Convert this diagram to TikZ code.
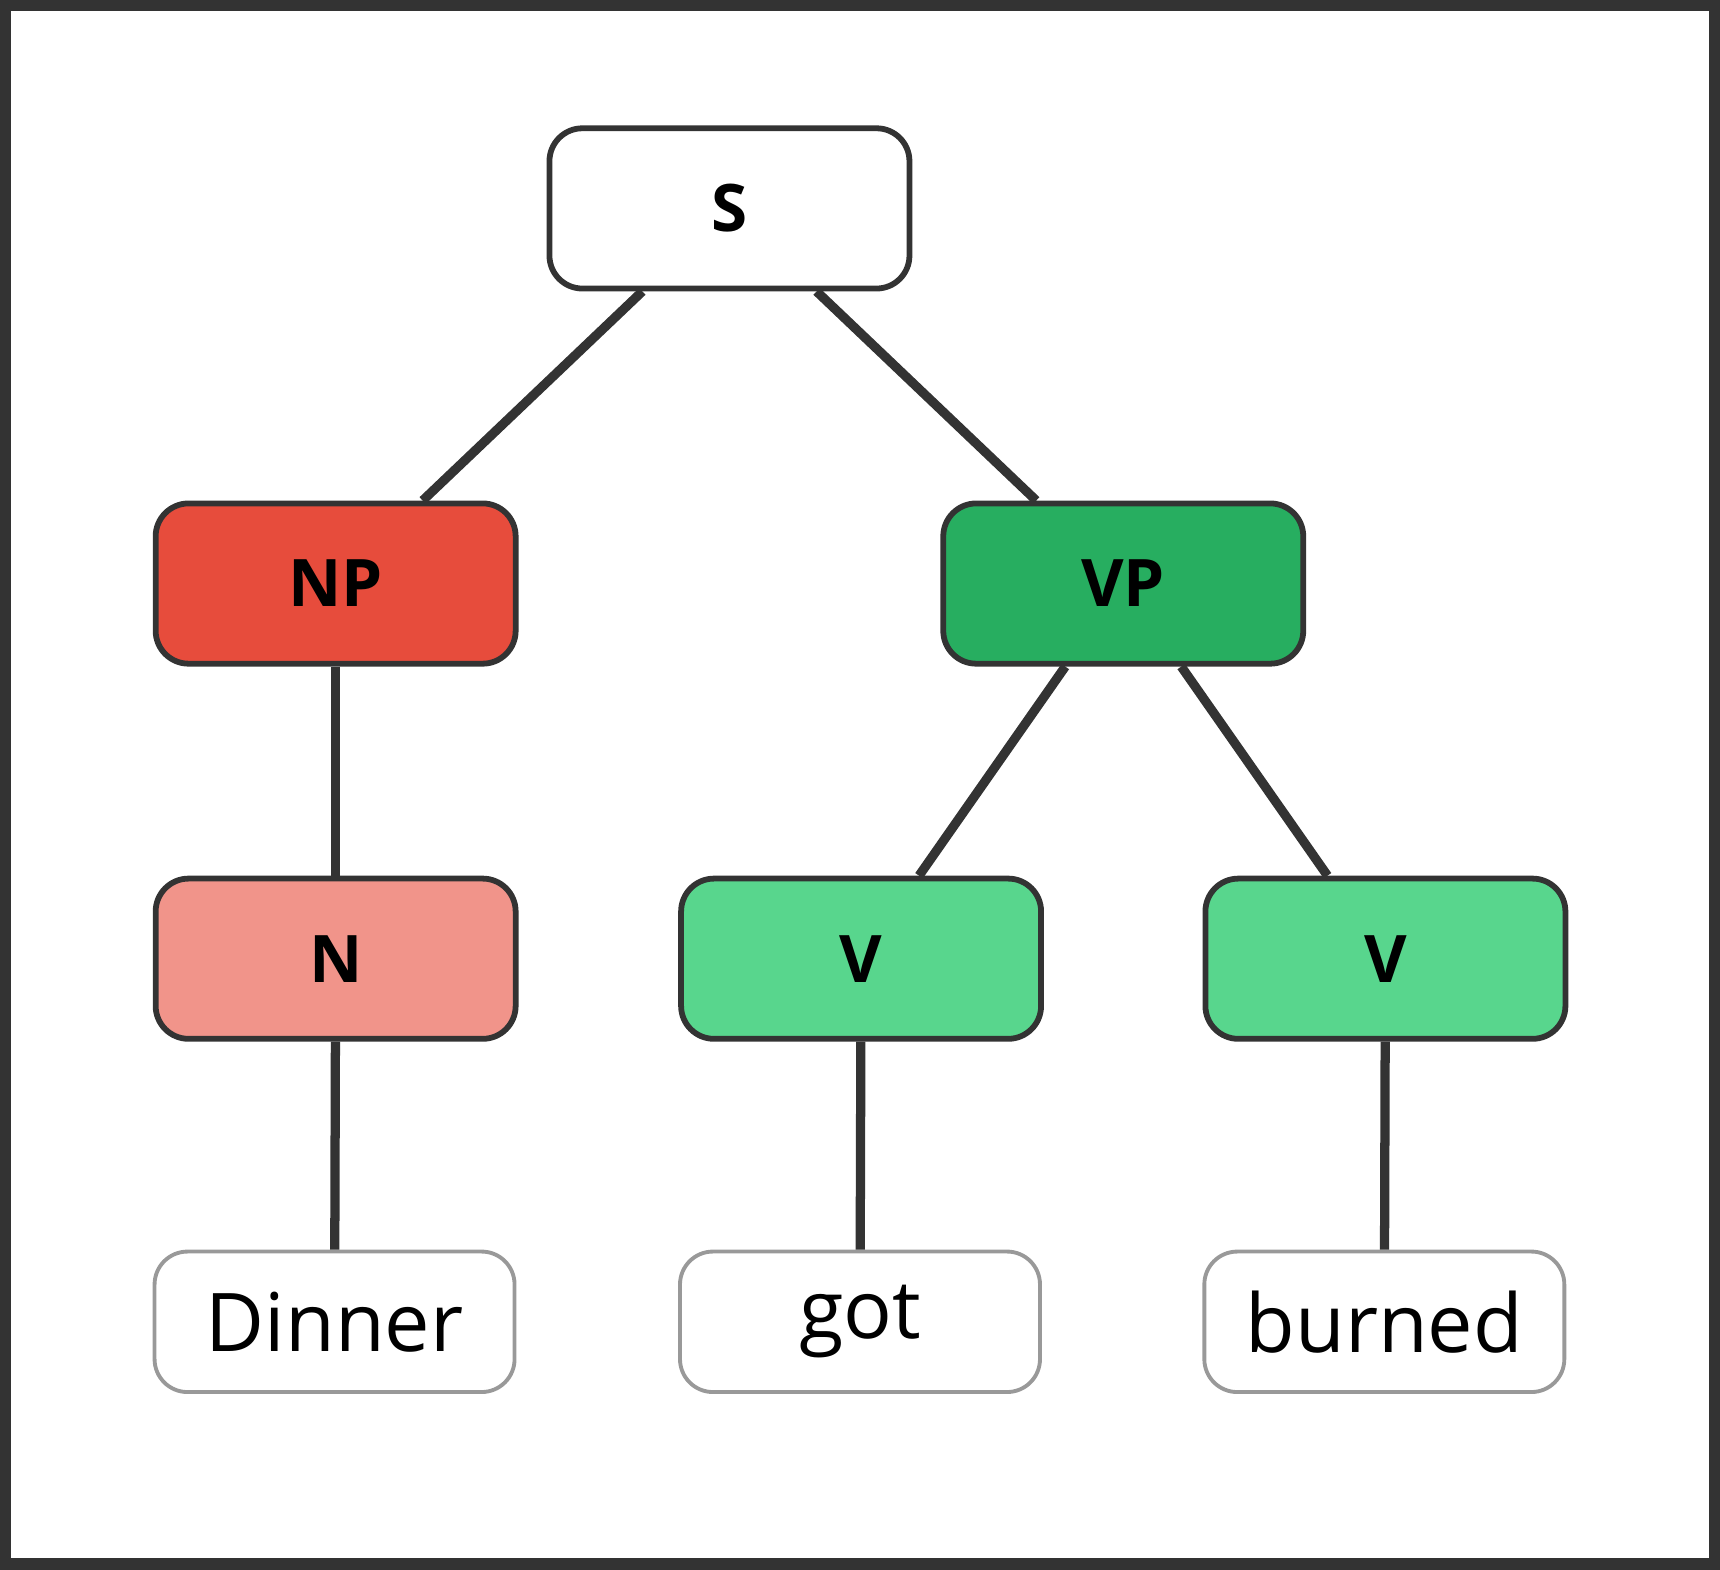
\documentclass[tikz,border=0pt]{standalone}
\usepackage{fontspec}
\setmainfont{Open Sans}
\usetikzlibrary{positioning}
\definecolor{edgegray}{HTML}{333333}
\definecolor{leafgray}{HTML}{999999}
\definecolor{npred}{HTML}{E74C3C}
\definecolor{nred}{HTML}{F1948A}
\definecolor{vpgreen}{HTML}{27AE60}
\definecolor{vgreen}{HTML}{58D68D}

\begin{document}
\begin{tikzpicture}[x=0.01cm,y=-0.01cm,
    cat/.style={draw=edgegray,line width=1.5pt,rounded corners=0.3cm,minimum width=3.28cm,minimum height=1.46cm,font=\fontsize{17}{20}\selectfont\bfseries},
    leaf/.style={draw=leafgray,line width=1pt,rounded corners=0.3cm,minimum width=3.28cm,minimum height=1.28cm,fill=white,font=\fontsize{21}{24}\selectfont},
    branch/.style={draw=edgegray,line width=2.4pt}]
		\useasboundingbox (0,0) rectangle (1568,1431);
		\draw[edgegray,line width=3pt] (5,5) rectangle (1563,1426);
		
		% Nodes
		\node[cat,fill=white] (s) at (665,190) {S};
		\node[cat,fill=npred] (np) at (306,532) {NP};
		\node[cat,fill=vpgreen] (vp) at (1024,532) {VP};
		\node[cat,fill=nred] (n) at (306,874) {N};
		\node[cat,fill=vgreen] (v1) at (785,874) {V};
		\node[cat,fill=vgreen] (v2) at (1263,874) {V};
		\node[leaf] (dinner) at (305,1205) {Dinner};
		\node[leaf] (got) at (784,1205) {got};
		\node[leaf] (burned) at (1262,1205) {burned};
		
		% Branches
		\draw[branch] (s) -- (np);
		\draw[branch] (s) -- (vp);
		\draw[branch] (np) -- (n);
		\draw[branch] (vp) -- (v1);
		\draw[branch] (vp) -- (v2);
		\draw[branch] (n) -- (dinner);
		\draw[branch] (v1) -- (got);
		\draw[branch] (v2) -- (burned);
		
		\end{tikzpicture}
\end{document}
